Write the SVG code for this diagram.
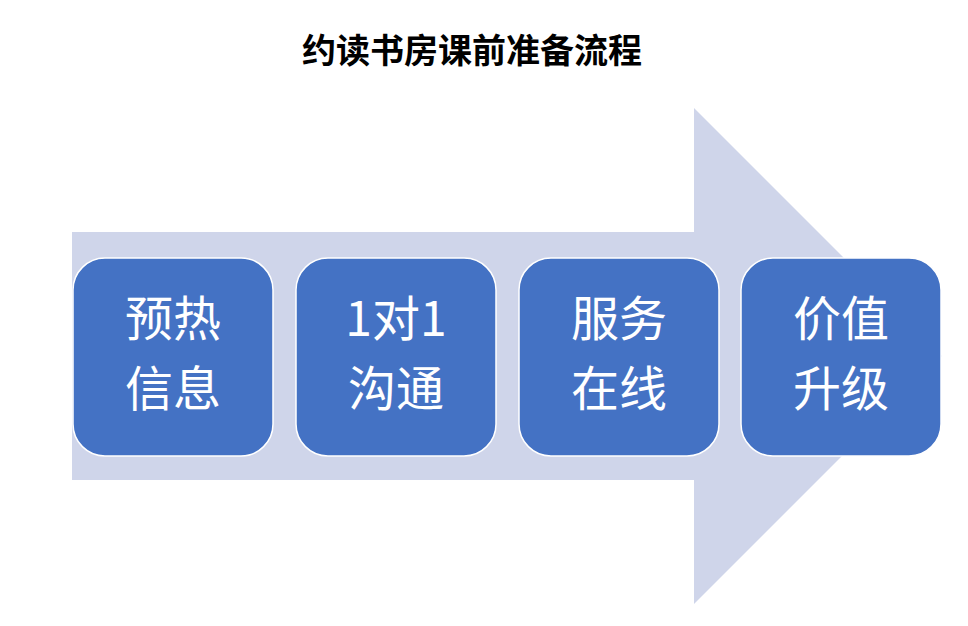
<svg xmlns="http://www.w3.org/2000/svg" width="968" height="626" viewBox="0 0 968 626">
<style>
.n rect{fill:#4472C4;stroke:#fff;stroke-width:1.5}
.n text{fill:#fff;font-family:"Noto Sans CJK SC","Liberation Sans",sans-serif;font-size:48px;text-anchor:middle}
</style>
<rect width="968" height="626" fill="#fff"/>
<text x="472" y="63" text-anchor="middle" font-family="Noto Sans CJK SC,sans-serif" font-weight="bold" font-size="34">约读书房课前准备流程</text>
<g id="connectors"><polygon points="72,232 694,232 694,108 942,356 694,604 694,480 72,480" fill="#CFD5EA"/></g>
<g id="n1" class="n"><rect x="73" y="258" width="200" height="198" rx="32"/><text x="173" y="336">预热</text><text x="173" y="406">信息</text></g>
<g id="n2" class="n"><rect x="296" y="258" width="200" height="198" rx="32"/><text x="396" y="336">1对1</text><text x="396" y="406">沟通</text></g>
<g id="n3" class="n"><rect x="519" y="258" width="200" height="198" rx="32"/><text x="619" y="336">服务</text><text x="619" y="406">在线</text></g>
<g id="n4" class="n"><rect x="741" y="258" width="200" height="198" rx="32"/><text x="841" y="336">价值</text><text x="841" y="406">升级</text></g>
</svg>
